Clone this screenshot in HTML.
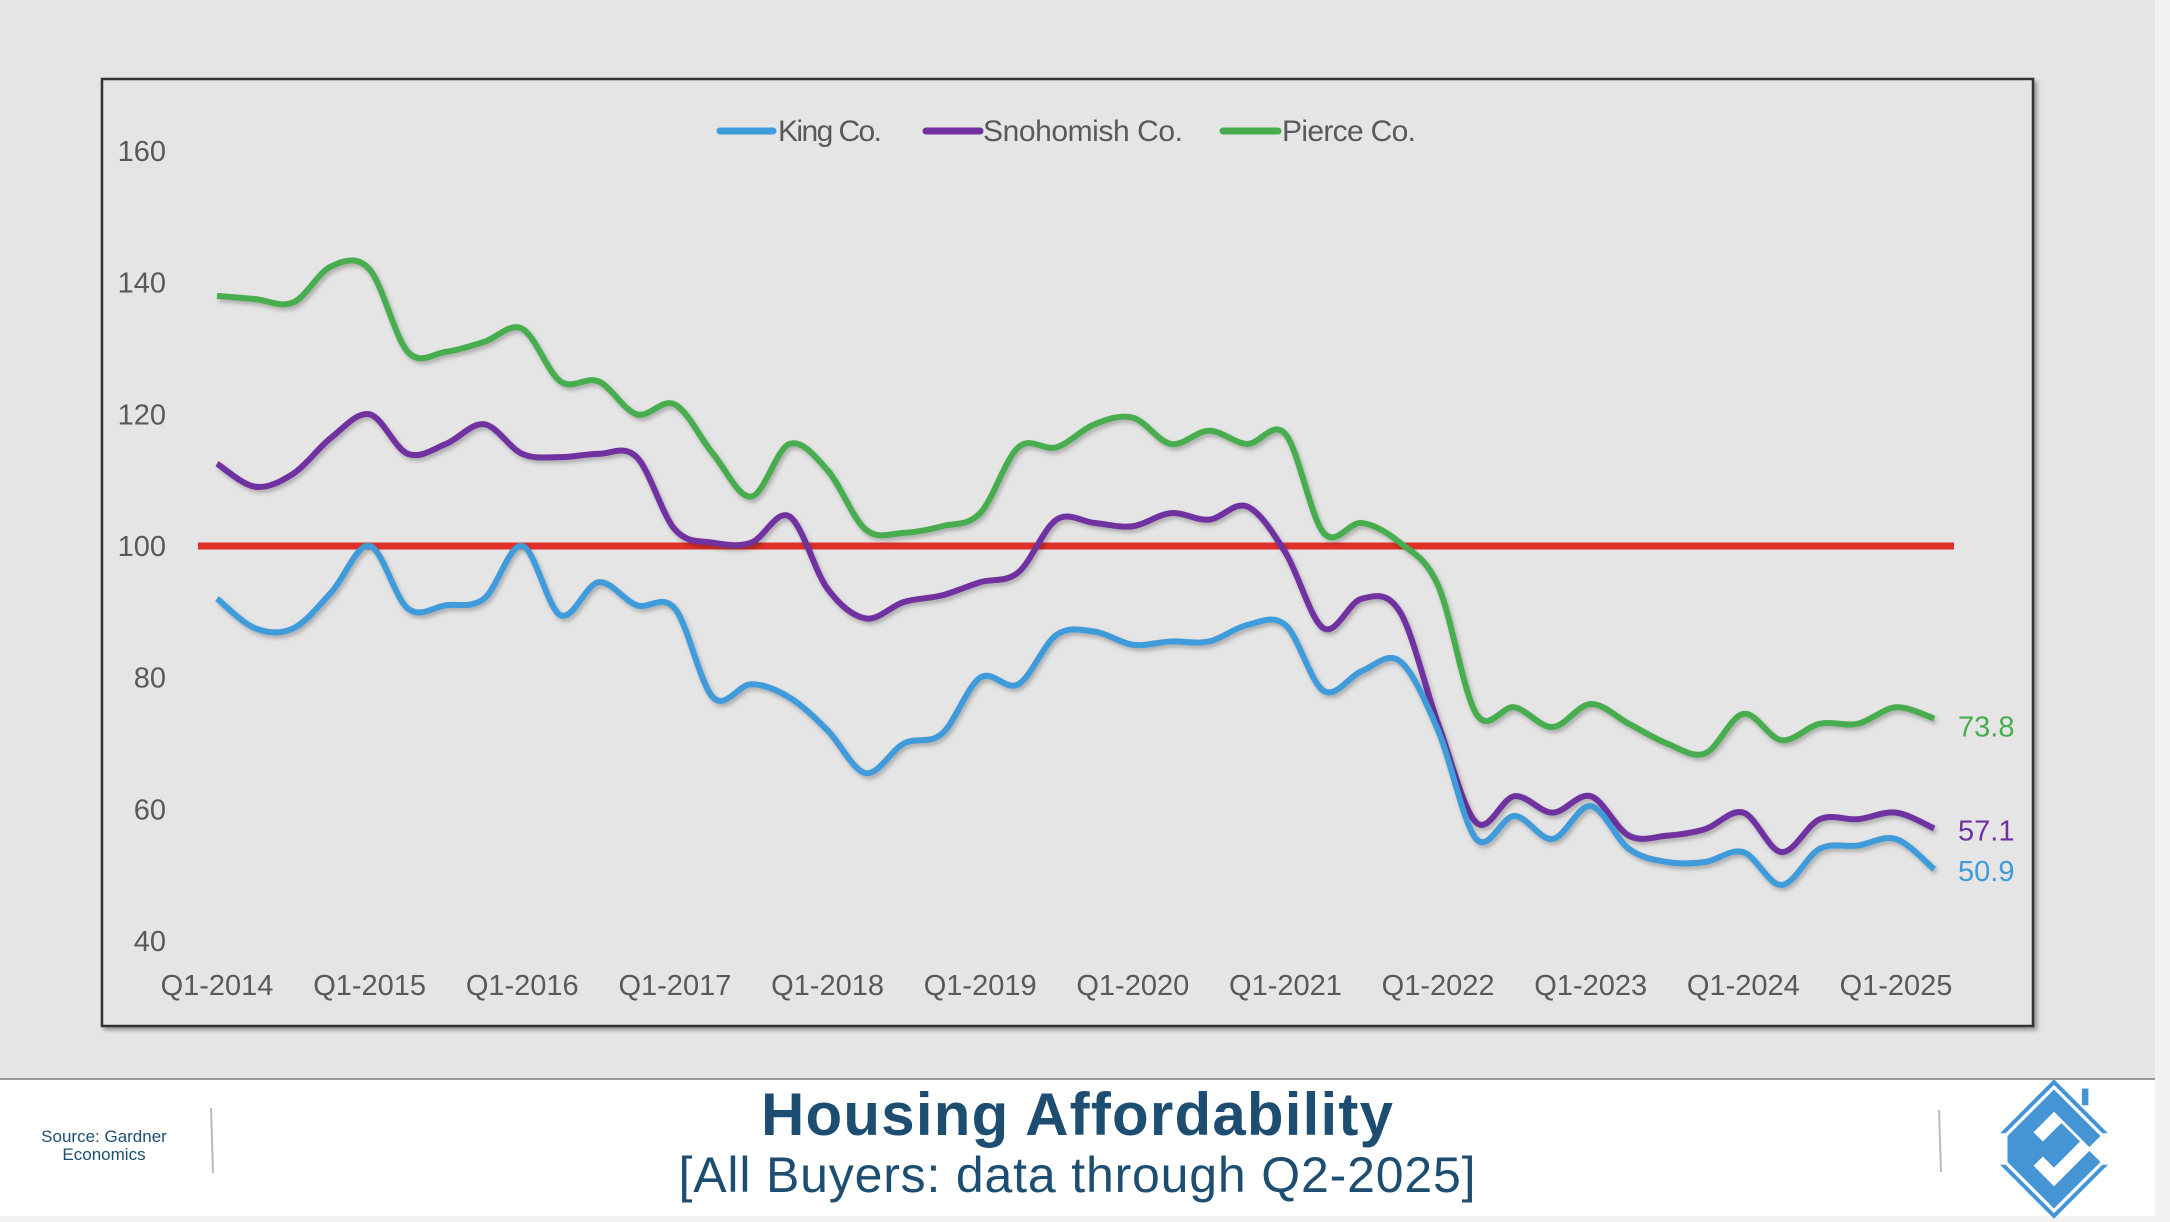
<!DOCTYPE html>
<html><head><meta charset="utf-8"><style>
html,body{margin:0;padding:0;}
body{width:2170px;height:1222px;position:relative;background:#f2f2f2;overflow:hidden;font-family:"Liberation Sans",sans-serif;}
#bg{position:absolute;left:0;top:0;width:2155px;height:1078px;background:#e5e5e5;}
#footer{position:absolute;left:0;top:1078px;width:2155px;height:136px;background:#fff;border-top:2px solid #999;}
svg{position:absolute;left:0;top:0;}
</style></head><body>
<div id="bg"></div>
<div id="footer"></div>
<svg id="chart" width="2170" height="1222">
<defs><filter id="sh" x="-5%" y="-5%" width="110%" height="110%"><feDropShadow dx="3" dy="3" stdDeviation="2" flood-color="#000" flood-opacity="0.35"/></filter>
<filter id="ls"><feDropShadow dx="2" dy="3" stdDeviation="2" flood-color="#000" flood-opacity="0.25"/></filter></defs>
<rect x="102" y="79" width="1931" height="947" fill="#e5e5e5" stroke="#333" stroke-width="2.5" filter="url(#sh)"/>
<g id="yaxis"></g>
<g id="xaxis"></g>
<g id="series"></g>
<g font-family="'Liberation Sans Narrow','Liberation Sans',sans-serif" font-size="30" fill="#595959">
<g><line x1="720" y1="131" x2="773" y2="131" stroke="#3f9bdb" stroke-width="7" stroke-linecap="round"/><text x="778" y="141" textLength="104">King Co.</text></g>
<g><line x1="926" y1="131" x2="980" y2="131" stroke="#7030a0" stroke-width="7" stroke-linecap="round"/><text x="983" y="141" textLength="200">Snohomish Co.</text></g>
<g><line x1="1223" y1="131" x2="1278" y2="131" stroke="#47ad4f" stroke-width="7" stroke-linecap="round"/><text x="1282" y="141" textLength="134">Pierce Co.</text></g>
</g>
<text x="1077" y="1135" text-anchor="middle" font-size="60" font-weight="bold" fill="#1d4e72" textLength="632">Housing Affordability</text>
<text x="1077" y="1192" text-anchor="middle" font-size="50" fill="#1d4e72" textLength="797">[All Buyers: data through Q2-2025]</text>
<text x="104" y="1142" text-anchor="middle" font-size="17" fill="#1d4e72"><tspan x="104">Source: Gardner</tspan><tspan x="104" dy="18">Economics</tspan></text>
<line x1="211" y1="1108" x2="213" y2="1173" stroke="#bbb" stroke-width="2"/>
<line x1="1939" y1="1110" x2="1941" y2="1172" stroke="#bbb" stroke-width="2"/>
<g transform="translate(2054,1149) scale(0.93)">
<polygon points="0,-75 58,-17 52,-17 0,-69 -52,-17 -58,-17" fill="#4594d4"/>
<polygon points="0,75 58,17 52,17 0,69 -52,17 -58,17" fill="#4594d4"/>
<polygon points="0,-64 50,-14 38,-2 0,-40 -22,-18 -12,-8 8,-28 28,-8 0,20 -12,8 -22,18 0,40 38,2 50,14 0,64 -50,14 -50,-14" fill="#4594d4"/>
<rect x="30" y="-65" width="7" height="18" fill="#4594d4"/>
</g>
</svg>
<script>
const quarters = ["Q1-2014","Q1-2015","Q1-2016","Q1-2017","Q1-2018","Q1-2019","Q1-2020","Q1-2021","Q1-2022","Q1-2023","Q1-2024","Q1-2025"];
const yTicks = [40,60,80,100,120,140,160];
const king = [92,87.5,87.5,93,100,90.5,91,92,100,89.5,94.5,91,90.5,77,79,77,72,65.5,70,71.5,80,79,86.5,87,85,85.5,85.5,88,88,78,81,82.5,72,55.5,59,55.5,60.5,54,52,52,53.5,48.5,54,54.5,55.5,50.9];
const snohomish = [112.5,109,111,116.5,120,114,115.5,118.5,114,113.5,114,113.5,102.5,100.5,100.5,104.5,93.5,89,91.5,92.5,94.5,96,104,103.5,103,105,104,106,99,87.5,92,90,73,58,62,59.5,62,56,56,57,59.5,53.5,58.5,58.5,59.5,57.1];
const pierce = [138,137.5,137,142.5,142,129.5,129.5,131,133,125,125,120,121.5,114,107.5,115.5,111.5,102.5,102,103,105,115,115,118.5,119.5,115.5,117.5,115.5,117,102,103.5,100.5,94,74.5,75.5,72.5,76,73,70,68.5,74.5,70.5,73,73,75.5,73.8];
const refLevel = 100;
const NS="http://www.w3.org/2000/svg";
const x0=217, xq=(1896-217)/44;
const xs=i=>x0+i*xq;
const ys=v=>941-(v-40)*(790/120);
function el(t,a,p){const e=document.createElementNS(NS,t);for(const k in a)e.setAttribute(k,a[k]);p.appendChild(e);return e;}
const ya=document.getElementById('yaxis'), xa=document.getElementById('xaxis'), sg=document.getElementById('series');
yTicks.forEach(v=>{const t=el('text',{x:166,y:ys(v)+10,'text-anchor':'end','font-size':29,fill:'#595959','font-family':"'Liberation Sans Narrow','Liberation Sans',sans-serif"},ya);t.textContent=v;

});
quarters.forEach((q,i)=>{const t=el('text',{x:xs(i*4),y:995,'text-anchor':'middle','font-size':29,fill:'#595959','font-family':"'Liberation Sans Narrow','Liberation Sans',sans-serif"},xa);t.textContent=q;

});
const rl=el('line',{x1:198,x2:1954,y1:ys(refLevel),y2:ys(refLevel),stroke:'#e0302a','stroke-width':7},sg);


function path(d){const p=d.map((v,i)=>[xs(i),ys(v)]);let s=`M${p[0][0]},${p[0][1]}`;
for(let i=0;i<p.length-1;i++){const a=p[Math.max(0,i-1)],b=p[i],c=p[i+1],e=p[Math.min(p.length-1,i+2)];
s+=` C${b[0]+(c[0]-a[0])/6},${b[1]+(c[1]-a[1])/6} ${c[0]-(e[0]-b[0])/6},${c[1]-(e[1]-b[1])/6} ${c[0]},${c[1]}`;}return s;}
[[pierce,'#47ad4f','pierce-line','pierce-end-label',8],[snohomish,'#7030a0','snohomish-line','snohomish-end-label',2],[king,'#3f9bdb','king-line','king-end-label',2]].forEach(([d,c,n,ln,off])=>{
const p=el('path',{d:path(d),fill:'none',stroke:c,'stroke-width':6,'stroke-linejoin':'round',filter:'url(#ls)'},sg);


const last=d[d.length-1];
const t=el('text',{x:1958,y:ys(last)+10+off,'font-size':29,fill:c,'font-family':"'Liberation Sans Narrow','Liberation Sans',sans-serif"},sg);t.textContent=last.toFixed(1);

});
</script>
</body></html>
